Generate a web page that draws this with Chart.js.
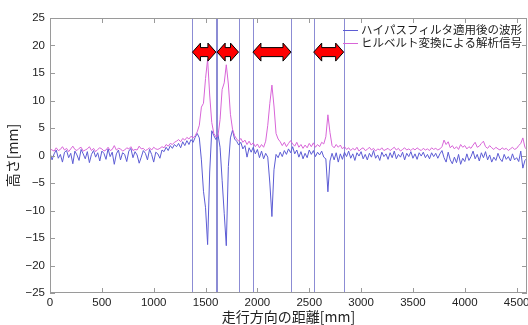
<!DOCTYPE html>
<html>
<head>
<meta charset="utf-8">
<script src="https://cdn.jsdelivr.net/npm/chart.js@4/dist/chart.umd.min.js"></script>
<style>
  html, body { margin: 0; padding: 0; background: #fff; }
  canvas { display: block; }
</style>
</head>
<body>
<canvas id="waveChart" width="528" height="325"></canvas>
<script>
// sampling interval along the track [mm]
const sampleStep = 20;

// high-pass filtered waveform [mm], one value every sampleStep
const highpassWave = [
    0.5, -0.8, 0.3, 1.0, -0.5, 0.2, -1.2, 0.6, 0.9, -0.4,
    0.4, -1.5, 0.8, 0.1, -0.9, 1.1, 0.3, -0.6, 0.7, -1.3,
    0.2, 0.9, -0.3, 0.5, -1.0, 0.8, 0.4, -0.7, 1.2, -0.2,
    0.6, -1.6, 0.3, 1.0, -0.8, 0.5, 0.2, -1.1, 0.8, 1.3,
    -0.4, 0.7, 0.1, -1.4, -0.3, 0.9, 0.4, -0.8, 1.1, 0.2,
    -1.2, 0.6, 0.3, -0.5, 1.0, 0.7, 1.5, 0.9, 1.8, 1.3,
    2.0, 1.6, 2.2, 1.4, 2.5, 1.8, 2.7, 2.0, 2.9, 2.4,
    3.3, 4.0, 3.2, -0.8, -6.5, -9.5, -16.2, -3.0, 4.5, 3.6,
    2.9, 3.8, 1.5, -4.5, -10.5, -16.4, -2.0, 3.2, 4.6, 3.0,
    2.6, 1.9, 2.4, 1.2, 1.8, -0.3, 1.4, 0.6, 1.5, 0.3,
    1.1, -0.4, 0.8, -0.6, 0.4, -0.3, -5.0, -11.1, -2.6, 0.2,
    -0.4, 0.6, -0.2, 0.9, 0.2, 1.2, 0.5, 1.6, 0.3, 1.0,
    -0.3, 0.7, -0.6, 0.4, -0.4, 1.0, 0.2, 0.9, -0.2, 0.6,
    0.1, 0.8, -0.3, -0.6, -6.6, -1.0, 0.4, -0.8, 0.5, -1.2,
    0.3, -0.7, 0.6, -0.2, 0.8, -0.5, 0.3, -0.9, 0.5, -0.1,
    0.7, -0.6, 0.2, -0.8, 0.4, -0.3, 0.9, -0.5, 0.1, -0.9,
    0.6, -0.2, 0.3, -0.7, 0.5, -0.4, 0.8, -0.6, 0.2, -0.3,
    0.6, -0.8, 0.4, -0.2, 0.7, -0.5, 0.3, -0.7, 0.5, -0.1,
    0.6, -0.4, 0.2, -0.6, 0.5, -0.2, 0.4, -0.5, 0.3, 0.9,
    -0.4, -1.2, 0.6, -0.8, -1.5, -0.3, -1.3, 0.2, -1.6, -0.5,
    -1.1, 0.3, -0.9, -0.2, 0.8, -0.6, 0.2, -1.0, 0.5, -0.4,
    0.7, -0.8, 0.1, -1.2, -0.3, -0.9, 0.4, -0.6, -1.1, 0.2,
    -0.7, -0.2, -1.0, 0.3, -0.8, -0.4, -1.1, 0.8, -2.3, -0.9,
    -0.5
];

// analytic signal from the Hilbert transform [mm]
const hilbertSignal = [
    1.2, 1.0, 0.8, 1.4, 0.9, 1.1, 1.6, 1.0, 1.3, 0.7,
    1.2, 1.7, 1.1, 0.9, 1.3, 1.5, 0.8, 1.0, 1.2, 1.6,
    0.9, 1.3, 0.7, 1.1, 1.4, 1.2, 0.8, 1.0, 1.5, 0.9,
    1.1, 1.8, 1.0, 1.3, 1.2, 0.8, 1.0, 1.4, 1.2, 1.6,
    0.9, 1.1, 1.0, 1.7, 1.2, 1.3, 0.9, 1.1, 1.4, 1.0,
    1.5, 1.2, 1.1, 1.3, 1.6, 1.4, 2.0, 1.7, 2.2, 2.0,
    2.4, 2.6, 2.9, 2.5, 3.1, 2.8, 3.3, 3.0, 3.5, 3.2,
    3.6, 4.3, 5.5, 8.8, 9.5, 14.0, 17.5, 11.0, 6.0, 4.0,
    3.4, 3.6, 6.5, 12.0, 13.2, 16.5, 13.0, 7.5, 4.8, 3.6,
    3.0, 2.6, 3.1, 2.4, 2.8, 2.0, 2.6, 1.9, 2.3, 1.6,
    2.1, 1.4, 2.0, 1.5, 2.6, 5.5, 9.5, 12.8, 9.0, 4.0,
    3.0, 2.5, 1.8, 2.4, 1.6, 2.2, 2.7, 2.1, 1.7, 2.4,
    1.5, 2.0, 1.3, 1.9, 1.4, 2.2, 1.6, 2.3, 1.5, 2.0,
    1.6, 2.4, 2.1, 3.4, 7.4, 4.2, 1.8, 1.4, 2.0, 1.5,
    1.9, 1.2, 1.6, 1.1, 1.4, 0.9, 1.3, 1.0, 1.5, 0.8,
    1.2, 1.4, 0.9, 1.1, 1.5, 1.0, 1.3, 0.8, 1.2, 1.0,
    1.4, 0.9, 1.1, 1.3, 0.9, 1.2, 1.5, 1.0, 1.3, 0.8,
    1.1, 1.4, 1.0, 1.2, 0.9, 1.3, 1.0, 1.4, 1.1, 0.9,
    1.3, 1.0, 1.2, 0.9, 1.4, 1.1, 1.3, 1.0, 1.2, 1.6,
    2.8, 2.0, 2.5, 1.4, 1.8, 1.2, 1.6, 1.1, 2.0, 1.5,
    1.8, 1.2, 1.6, 1.3, 1.9, 2.4, 1.5, 1.7, 2.2, 2.6,
    1.6, 1.3, 1.8, 1.4, 1.1, 1.5, 1.2, 1.0, 1.4, 1.1,
    1.3, 0.9, 1.2, 1.5, 1.1, 1.3, 1.8, 2.2, 3.2, 1.5,
    1.0
];

// section boundaries drawn as vertical lines [mm]
const sectionLines = [1374, 1600, 1612, 1818, 1957, 2324, 2543, 2832];
// red double arrows between the boundaries [mm]
const arrowSpans = [[1374, 1600], [1612, 1818], [1957, 2324], [2543, 2832]];
const arrowLevel = 18.8;

const seriesLabels = ['ハイパスフィルタ適用後の波形', 'ヒルベルト変換による解析信号'];
const xTicks = [0, 500, 1000, 1500, 2000, 2500, 3000, 3500, 4000, 4500];
const yTicks = [-25, -20, -15, -10, -5, 0, 5, 10, 15, 20, 25];

const blueColor = '#5c5cd4';
const pinkColor = '#d865d8';
const lineColor = '#8c8cd4';
const frameColor = '#9a9a9a';

function toPoints(values) {
    return values.map((v, i) => ({ x: i * sampleStep, y: v }));
}

function drawDoubleArrow(ctx, x1, x2, yc) {
    const head = 8, halfHead = 9, halfBody = 4.5;
    ctx.beginPath();
    ctx.moveTo(x1, yc);
    ctx.lineTo(x1 + head, yc - halfHead);
    ctx.lineTo(x1 + head, yc - halfBody);
    ctx.lineTo(x2 - head, yc - halfBody);
    ctx.lineTo(x2 - head, yc - halfHead);
    ctx.lineTo(x2, yc);
    ctx.lineTo(x2 - head, yc + halfHead);
    ctx.lineTo(x2 - head, yc + halfBody);
    ctx.lineTo(x1 + head, yc + halfBody);
    ctx.lineTo(x1 + head, yc + halfHead);
    ctx.closePath();
    ctx.fillStyle = '#ff0000';
    ctx.fill();
    ctx.strokeStyle = '#000';
    ctx.lineWidth = 1;
    ctx.stroke();
}

// matlab-like box, inward ticks, section lines, arrows and legend
const matlabFrame = {
    id: 'matlabFrame',
    beforeDatasetsDraw(chart) {
        const { ctx, chartArea: a, scales: { x } } = chart;
        ctx.save();
        ctx.strokeStyle = lineColor;
        ctx.lineWidth = 1;
        sectionLines.forEach(d => {
            const px = Math.round(x.getPixelForValue(d)) + 0.5;
            ctx.beginPath();
            ctx.moveTo(px, a.top);
            ctx.lineTo(px, a.bottom);
            ctx.stroke();
        });
        ctx.restore();
    },
    afterDatasetsDraw(chart) {
        const { ctx, chartArea: a, scales: { x, y } } = chart;
        ctx.save();

        arrowSpans.forEach(([s, e]) => {
            drawDoubleArrow(ctx, x.getPixelForValue(s), x.getPixelForValue(e), y.getPixelForValue(arrowLevel));
        });

        ctx.strokeStyle = frameColor;
        ctx.lineWidth = 1;
        ctx.strokeRect(a.left + 0.5, a.top + 0.5, a.right - a.left - 1, a.bottom - a.top - 1);
        const tl = 5;
        ctx.beginPath();
        xTicks.forEach(v => {
            const px = Math.round(x.getPixelForValue(v)) + 0.5;
            ctx.moveTo(px, a.bottom); ctx.lineTo(px, a.bottom - tl);
            ctx.moveTo(px, a.top); ctx.lineTo(px, a.top + tl);
        });
        yTicks.forEach(v => {
            const py = Math.round(y.getPixelForValue(v)) + 0.5;
            ctx.moveTo(a.left, py); ctx.lineTo(a.left + tl, py);
            ctx.moveTo(a.right, py); ctx.lineTo(a.right - tl, py);
        });
        ctx.stroke();

        // legend in the upper right corner
        const lx = a.right - 184;
        const rows = [a.top + 12, a.top + 25];
        const colors = [blueColor, pinkColor];
        ctx.font = '11.5px "Noto Sans CJK JP"';
        ctx.textBaseline = 'middle';
        ctx.textAlign = 'left';
        seriesLabels.forEach((label, i) => {
            ctx.strokeStyle = colors[i];
            ctx.beginPath();
            ctx.moveTo(lx, rows[i] + 0.5);
            ctx.lineTo(lx + 15, rows[i] + 0.5);
            ctx.stroke();
            ctx.fillStyle = '#1a1a1a';
            ctx.fillText(label, lx + 18, rows[i]);
        });
        ctx.restore();
    }
};

const ctx = document.getElementById('waveChart').getContext('2d');
new Chart(ctx, {
    type: 'line',
    data: {
        datasets: [{
            label: seriesLabels[0],
            data: toPoints(highpassWave),
            borderColor: blueColor,
            borderWidth: 1,
            pointRadius: 0,
            tension: 0,
            order: 1
        }, {
            label: seriesLabels[1],
            data: toPoints(hilbertSignal),
            borderColor: pinkColor,
            borderWidth: 1,
            pointRadius: 0,
            tension: 0,
            order: 0
        }]
    },
    options: {
        responsive: false,
        animation: false,
        devicePixelRatio: 1,
        layout: { padding: { top: 18, right: 1, left: 0, bottom: 0 } },
        plugins: {
            legend: { display: false },
            tooltip: { enabled: false }
        },
        scales: {
            x: {
                type: 'linear',
                min: 0,
                max: 4600,
                grid: { display: false, drawTicks: false },
                border: { display: false },
                afterBuildTicks: scale => { scale.ticks = xTicks.map(v => ({ value: v })); },
                afterFit: scale => { scale.height = 32; scale.paddingLeft = 0; scale.paddingRight = 0; },
                ticks: {
                    autoSkip: false,
                    maxRotation: 0,
                    padding: 3,
                    color: '#222',
                    font: { family: '"Liberation Sans", Arial, sans-serif', size: 11.5 },
                    callback: v => String(v)
                },
                title: {
                    display: true,
                    text: '走行方向の距離[mm]',
                    color: '#222',
                    padding: { top: 0, bottom: 0 },
                    font: { family: '"Noto Sans CJK JP"', size: 14 }
                }
            },
            y: {
                min: -25,
                max: 25,
                grid: { display: false, drawTicks: false },
                border: { display: false },
                afterBuildTicks: scale => { scale.ticks = yTicks.map(v => ({ value: v })); },
                afterFit: scale => { scale.width = 50; scale.paddingTop = 0; scale.paddingBottom = 0; },
                ticks: {
                    autoSkip: false,
                    padding: 5,
                    color: '#222',
                    font: { family: '"Liberation Sans", Arial, sans-serif', size: 11.5 },
                    callback: v => String(v).replace('-', '\u2212')
                },
                title: {
                    display: true,
                    text: '高さ[mm]',
                    color: '#222',
                    padding: { top: 4, bottom: 2 },
                    font: { family: '"Noto Sans CJK JP"', size: 14 }
                }
            }
        }
    },
    plugins: [matlabFrame]
});
</script>
</body>
</html>
